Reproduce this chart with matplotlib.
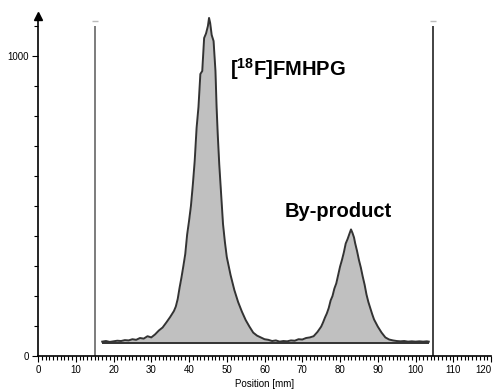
import numpy as np
import matplotlib
matplotlib.use("Agg")
import matplotlib.pyplot as plt
from matplotlib.ticker import MultipleLocator

plt.rcParams['font.family'] = ['Liberation Sans', 'DejaVu Sans']
plt.rcParams['mathtext.fontset'] = 'custom'
plt.rcParams['mathtext.bf'] = 'Liberation Sans:bold'
plt.rcParams['mathtext.rm'] = 'Liberation Sans'

# Radio-TLC scan, position [mm] vs counts
position = [17, 18, 19, 20, 21, 22, 23, 24, 25, 26, 27, 28, 29, 30, 31, 32, 33, 34, 35, 36,
            36.5, 37, 37.5, 38, 38.5, 39, 39.5, 40, 40.5, 41, 41.5, 42, 42.5, 43, 43.5, 44,
            44.5, 45, 45.3, 45.6, 46, 46.5, 47, 47.3, 47.6, 48, 48.5, 49, 49.5, 50, 51, 52,
            53, 54, 55, 56, 57, 58, 59, 60, 61, 62, 63, 64, 65, 66, 67, 68, 69, 70, 71, 72,
            73, 74, 75, 75.5, 76, 76.5, 77, 77.5, 78, 78.5, 79, 79.5, 80, 80.5, 81, 81.5,
            82, 82.5, 82.9, 83.3, 83.7, 84, 84.5, 85, 85.5, 86, 86.5, 87, 87.5, 88, 88.5,
            89, 89.5, 90, 91, 92, 93, 94, 95, 96, 97, 98, 99, 100, 101, 102, 103, 103.5]
counts = [48, 50, 47, 49, 51, 50, 53, 52, 56, 54, 60, 58, 66, 62, 72, 85, 95, 112, 130, 150,
          165, 190, 228, 262, 300, 340, 405, 450, 500, 570, 650, 760, 830, 940, 950, 1060,
          1075, 1100, 1127, 1110, 1070, 1050, 950, 830, 740, 640, 540, 440, 380, 330, 270, 220,
          180, 148, 120, 98, 78, 68, 62, 56, 54, 50, 52, 48, 50, 49, 52, 51, 56, 55, 60, 62,
          66, 80, 98, 112, 128, 142, 160, 185, 200, 225, 242, 270, 298, 320, 345, 375,
          390, 408, 422, 410, 395, 376, 350, 320, 295, 265, 238, 205, 180, 160, 140,
          122, 110, 98, 78, 62, 55, 52, 50, 49, 50, 48, 49, 48, 49, 48, 49, 48]
baseline = 45
start_line = 15
front_line = 104.5
peak_labels = [r"[$^{\mathbf{18}}$F]FMHPG", "By-product"]
label_pos = [(50.8, 933), (65.4, 464)]
x_ticks = list(range(0, 121, 10))

fig = plt.figure(figsize=(4.93, 3.92), dpi=100)
ax = fig.add_axes([0.0771, 0.0918, 0.919, 0.8686])

ax.fill_between(position, counts, baseline, color='#c0c0c0', lw=0)
ax.plot(position, counts, color='#333333', lw=1.4)
ax.hlines(baseline, position[0], position[-1], color='#333333', lw=1.4)

# start and solvent front markers
ax.vlines(start_line, 0, 1100, color='#666666', lw=1.2)
ax.vlines(front_line, 0, 1100, color='#222222', lw=1.2)
ax.hlines(1117, start_line - 0.8, start_line + 0.8, color='#bbbbbb', lw=1)
ax.hlines(1117, front_line - 0.8, front_line + 0.8, color='#bbbbbb', lw=1)

for txt, (x, y) in zip(peak_labels, label_pos):
    ax.text(x, y, txt, fontsize=14.5, fontweight='bold', ha='left', va='baseline')

ax.set_xlim(0, 120)
ax.set_ylim(0, 1135)
for s in ['top', 'right']:
    ax.spines[s].set_visible(False)
for s in ['left', 'bottom']:
    ax.spines[s].set_linewidth(1.2)
ax.plot(0, 1, '^k', ms=6, transform=ax.get_xaxis_transform(), clip_on=False)

ax.set_xticks(x_ticks)
ax.xaxis.set_minor_locator(MultipleLocator(1))
ax.set_yticks([0, 1000])
ax.yaxis.set_minor_locator(MultipleLocator(100))
ax.tick_params(which='major', length=4.5, width=0.8, labelsize=7, pad=2)
ax.tick_params(which='minor', length=2.8, width=0.8)
ax.set_xlabel('Position [mm]', fontsize=7, labelpad=3)

# keep the last label inside the picture
ax.xaxis.get_major_ticks()[-1].label1.set_horizontalalignment('right')

fig.savefig('out.png', dpi=100)
